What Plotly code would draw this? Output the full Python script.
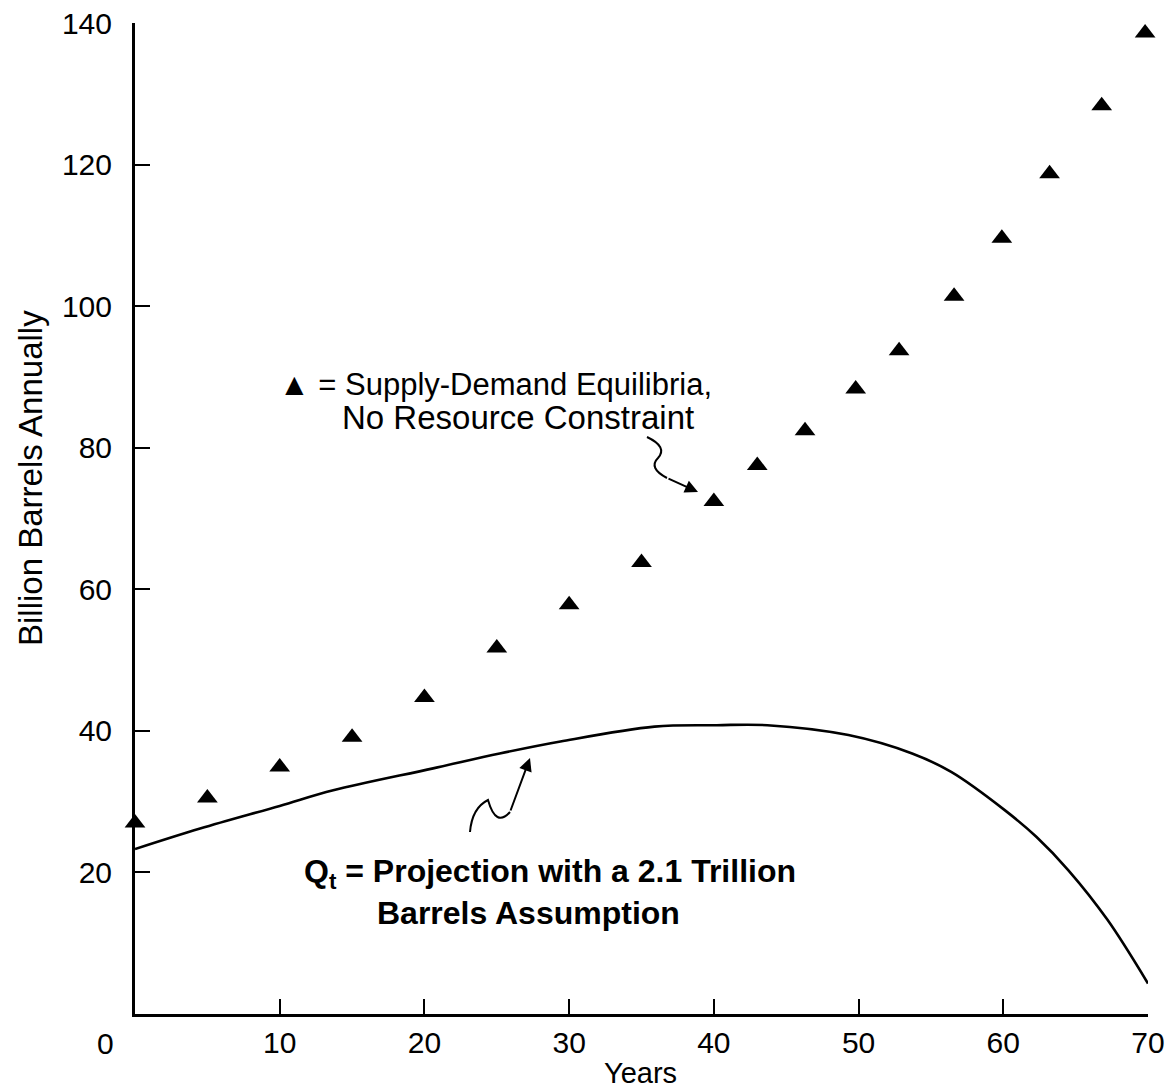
import plotly.graph_objects as go

# ---- data ----
eq_years = [0, 5, 10, 15, 20, 25, 30, 35, 40, 43, 46.3, 49.8, 52.8, 56.6, 59.9, 63.2, 66.8, 69.8]
eq_values = [27.0, 30.5, 34.9, 39.1, 44.7, 51.7, 57.8, 63.8, 72.4, 77.5, 82.4, 88.3, 93.7,
             101.4, 109.6, 118.7, 128.3, 138.6]

q_years = [0, 4.5, 10, 13.7, 20.6, 25.2, 29.4, 35.9, 40.2, 43.7, 49.3, 53.7, 56.4, 60.1,
           62.3, 64.5, 67.2, 70]
q_values = [23.3, 26.2, 29.4, 31.6, 34.7, 36.8, 38.5, 40.6, 40.8, 40.8, 39.4, 36.8, 34.2,
            28.8, 25.0, 20.3, 13.3, 4.3]

x_ticks = [10, 20, 30, 40, 50, 60, 70]
y_ticks = [20, 40, 60, 80, 100, 120, 140]

FONT = "Liberation Sans, Arial, sans-serif"

# plot-area geometry in reference-image pixels; the page adds an 8px body margin
L, R, T, B = 135, 1148, 23, 1014
PAGE_OFF = 8
W, H = 1173, 1091


def px_x(p):
    return (p - L) / (R - L) * 70


def px_y(p):
    return (B - p) / (B - T) * 140


def paper_x(p):
    return (p - L) / (R - L)


def paper_y(p):
    return (B - p) / (B - T)


fig = go.Figure()

fig.add_trace(go.Scatter(
    x=q_years, y=q_values, mode="lines", line=dict(color="black", width=2.6, shape="spline"),
    showlegend=False, hoverinfo="skip", cliponaxis=False))

fig.add_trace(go.Scatter(
    x=eq_years, y=eq_values, mode="markers",
    marker=dict(symbol="triangle-up", size=18, color="black"),
    showlegend=False, cliponaxis=False))


# squiggly pointer lines
def path_from(points):
    pts = [(px_x(a), px_y(b)) for a, b in points]
    d = "M %.3f,%.3f" % pts[0]
    for i in range(1, len(pts) - 1, 2):
        d += " Q %.3f,%.3f %.3f,%.3f" % (pts[i] + pts[i + 1])
    return d


sq1 = [(647, 437), (668, 447), (658, 458), (648, 468), (667, 478)]
sq2 = [(470, 832), (472, 808), (488, 800), (496, 828), (510, 812)]
for sq in (sq1, sq2):
    fig.add_shape(type="path", path=path_from(sq), xref="x", yref="y",
                  line=dict(color="black", width=2))

fig.add_annotation(x=px_x(698), y=px_y(492), ax=px_x(667), ay=px_y(478),
                   xref="x", yref="y", axref="x", ayref="y", text="", showarrow=True,
                   arrowhead=2, arrowsize=1.3, arrowwidth=2, arrowcolor="black")
fig.add_annotation(x=px_x(530), y=px_y(758), ax=px_x(510), ay=px_y(812),
                   xref="x", yref="y", axref="x", ayref="y", text="", showarrow=True,
                   arrowhead=2, arrowsize=1.3, arrowwidth=2, arrowcolor="black")

# texts
fig.add_annotation(x=px_x(277), y=px_y(384), xref="x", yref="y", xanchor="left", yanchor="middle",
                   text="▲ = Supply-Demand Equilibria,", showarrow=False,
                   font=dict(family=FONT, size=31, color="black"))
fig.add_annotation(x=px_x(340), y=px_y(417), xref="x", yref="y", xanchor="left", yanchor="middle",
                   text="No Resource Constraint", showarrow=False,
                   font=dict(family=FONT, size=33, color="black"))
fig.add_annotation(x=px_x(302), y=px_y(873), xref="x", yref="y", xanchor="left", yanchor="middle",
                   text="<b>Q<sub>t</sub> = Projection with a 2.1 Trillion</b>", showarrow=False,
                   font=dict(family=FONT, size=32, color="black"))
fig.add_annotation(x=px_x(375), y=px_y(913), xref="x", yref="y", xanchor="left", yanchor="middle",
                   text="<b>Barrels Assumption</b>", showarrow=False,
                   font=dict(family=FONT, size=32, color="black"))

# origin label, axis titles (paper refs so they show outside the plot area)
fig.add_annotation(x=paper_x(105), y=paper_y(1043), xref="paper", yref="paper", text="0",
                   xanchor="center", yanchor="middle",
                   showarrow=False, font=dict(family=FONT, size=30, color="black"))
fig.add_annotation(x=paper_x(31), y=paper_y(478), xref="paper", yref="paper",
                   xanchor="center", yanchor="middle",
                   text="Billion Barrels Annually", textangle=-90, showarrow=False,
                   font=dict(family=FONT, size=33, color="black"))
fig.add_annotation(x=paper_x(640), y=paper_y(1073), xref="paper", yref="paper",
                   xanchor="center", yanchor="middle",
                   text="Years", showarrow=False,
                   font=dict(family=FONT, size=29, color="black"))

axis_common = dict(showline=True, linecolor="black", linewidth=3, showgrid=False, zeroline=False,
                   ticks="inside", tickcolor="black", tickwidth=2, ticklen=15, automargin=False,
                   ticklabeloverflow="allow",
                   tickfont=dict(family=FONT, size=30, color="black"))

fig.update_xaxes(range=[0, 70], tickvals=x_ticks, ticklabelstandoff=0, **axis_common)
fig.update_yaxes(range=[0, 140], tickvals=y_ticks, ticklabelstandoff=14, **axis_common)

fig.update_layout(width=W, height=H,
                  margin=dict(l=L - PAGE_OFF, r=W - (R - PAGE_OFF),
                              t=T - PAGE_OFF, b=H - (B - PAGE_OFF)),
                  plot_bgcolor="white", paper_bgcolor="white",
                  font=dict(family=FONT, color="black"))

fig.write_html("out.html")
